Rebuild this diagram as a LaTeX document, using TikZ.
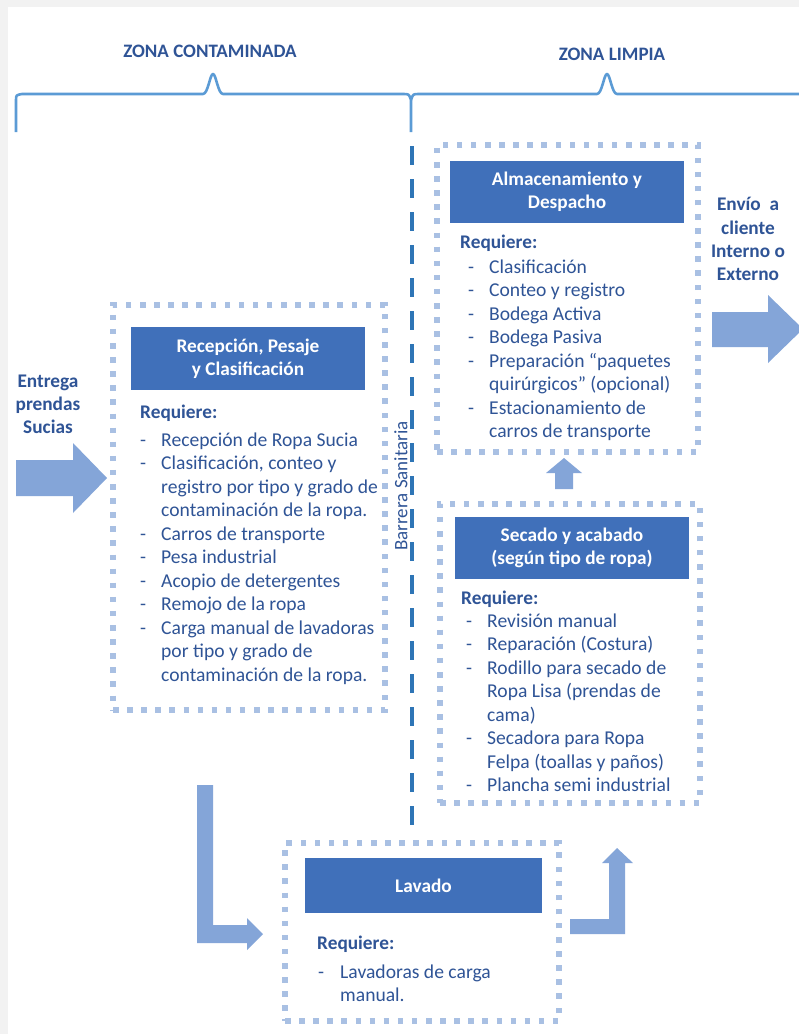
\documentclass[tikz,border=0pt]{standalone}
\usepackage{fontspec}
\setmainfont{Carlito}
\definecolor{dblue}{RGB}{47,84,150}
\definecolor{hdr}{RGB}{64,112,186}
\definecolor{dotc}{RGB}{169,192,227}
\definecolor{arr}{RGB}{132,165,216}
\definecolor{brace}{RGB}{91,155,213}
\definecolor{barr}{RGB}{46,117,182}
\newcommand\itm[1]{\strut\makebox[21pt][l]{-}#1}
\newcommand\cnt[1]{\strut\hspace*{21pt}#1}
\tikzset{
  dotbox/.style={draw=dotc, line width=5.5pt, dash pattern=on 5.5pt off 8.6pt, line cap=butt, inner sep=0pt},
  hdrbox/.style={fill=hdr, text=white, inner sep=0pt, align=center, font=\fontsize{19.3}{23.4}\selectfont\bfseries},
  req/.style={anchor=base west, text=dblue, inner sep=0pt, font=\fontsize{19.3}{23.4}\selectfont\bfseries},
  lst/.style={anchor=north west, text=dblue, inner sep=0pt, align=left, font=\fontsize{19.6}{23.5}\selectfont},
  side/.style={text=dblue, inner sep=0pt, align=center, font=\fontsize{19.3}{23.2}\selectfont\bfseries},
  zone/.style={text=dblue, inner sep=0pt, font=\fontsize{19}{22}\selectfont\bfseries},
  blockarrow/.style={fill=arr, draw=none},
}
\begin{document}
\begin{tikzpicture}[x=1pt,y=-1pt]
\useasboundingbox (0,0) rectangle (799,1034);
\clip (0,0) rectangle (799,1034);
\fill[black!5] (0,0) rectangle (799,1034);
\fill[white] (8,7) rectangle (799,1034);

% braces
\draw[brace, line width=2.6pt, line join=round]
  (16,132) -- (16,101) .. controls (16,95) .. (22,94) -- (203,94)
  .. controls (208,94) and (210,74) .. (213,74) .. controls (216,74) and (218,94) .. (223,94)
  -- (403,94) .. controls (409,94) .. (411,100) -- (411,132);
\draw[brace, line width=2.6pt, line join=round]
  (411,100) .. controls (413,94) .. (419,94) -- (597,94)
  .. controls (602,94) and (604,74) .. (607,74) .. controls (610,74) and (612,94) .. (617,94)
  -- (799,94);
\node[zone] (zc) at (210,51) {ZONA CONTAMINADA};
\node[zone] (zl) at (612,54) {ZONA LIMPIA};

% barrier
\draw[barr, line width=4pt, dash pattern=on 19pt off 14pt] (412,146) -- (412,830);
\node[text=dblue, inner sep=0pt, rotate=90, font=\fontsize{19}{23}\selectfont] (bs) at (401,486) {Barrera Sanitaria};

% box 1
\node[dotbox, minimum width=272pt, minimum height=405pt] (b1) at (249,507.5) {};
\node[hdrbox, minimum width=234pt, minimum height=63pt] (h1) at (248,358.5) {Recepción, Pesaje\\y Clasificación};
\node[req] (r1) at (140,418) {Requiere:};
\node[lst] (l1) at (140,429.5) {\itm{Recepción de Ropa Sucia}\\
\itm{Clasificación, conteo y}\\
\cnt{registro por tipo y grado de}\\
\cnt{contaminación de la ropa.}\\
\itm{Carros de transporte}\\
\itm{Pesa industrial}\\
\itm{Acopio de detergentes}\\
\itm{Remojo de la ropa}\\
\itm{Carga manual de lavadoras}\\
\cnt{por tipo y grado de}\\
\cnt{contaminación de la ropa.}};

% box 2
\node[dotbox, minimum width=261pt, minimum height=307pt] (b2) at (567.5,298.5) {};
\node[hdrbox, minimum width=234pt, minimum height=62pt] (h2) at (567,192) {Almacenamiento y\\Despacho};
\node[req] (r2) at (460,248) {Requiere:};
\node[lst] (l2) at (468,256.5) {\itm{Clasificación}\\
\itm{Conteo y registro}\\
\itm{Bodega Activa}\\
\itm{Bodega Pasiva}\\
\itm{Preparación “paquetes}\\
\cnt{quirúrgicos” (opcional)}\\
\itm{Estacionamiento de}\\
\cnt{carros de transporte}};

% box 3
\node[dotbox, minimum width=260pt, minimum height=299pt] (b3) at (570,653.5) {};
\node[hdrbox, minimum width=234pt, minimum height=62pt] (h3) at (572,548) {Secado y acabado\\(según tipo de ropa)};
\node[req] (r3) at (461,604) {Requiere:};
\node[lst] (l3) at (466,610.5) {\itm{Revisión manual}\\
\itm{Reparación (Costura)}\\
\itm{Rodillo para secado de}\\
\cnt{Ropa Lisa (prendas de}\\
\cnt{cama)}\\
\itm{Secadora para Ropa}\\
\cnt{Felpa (toallas y paños)}\\
\itm{Plancha semi industrial}};

% box 4
\node[dotbox, minimum width=274pt, minimum height=178pt] (b4) at (422,932) {};
\node[hdrbox, minimum width=237pt, minimum height=55pt] (h4) at (423.5,885.5) {Lavado};
\node[req] (r4) at (317,949) {Requiere:};
\node[lst] (l4) at (318,961.5) {\strut\makebox[22pt][l]{-}Lavadoras de carga\\
\strut\hspace*{22pt}manual.};

% side texts
\node[side] (t1) at (48,406) {\strut Entrega\\\strut prendas\\\strut Sucias};
\node[side] (t2) at (748,241) {\strut Envío~ a\\\strut cliente\\\strut Interno o\\\strut Externo};

% block arrows
\fill[blockarrow] (16,460) -- (73,460) -- (73,443) -- (107,478) -- (73,513) -- (73,496) -- (16,496) -- cycle;
\fill[blockarrow] (712,312) -- (768,312) -- (768,295) -- (803,329) -- (768,363) -- (768,347) -- (712,347) -- cycle;
\fill[blockarrow] (555,489) -- (555,473) -- (546,473) -- (564,458) -- (582,473) -- (573,473) -- (573,489) -- cycle;
\fill[blockarrow] (197,785) -- (213,785) -- (213,925) -- (247,925) -- (247,918) -- (263,934) -- (247,950) -- (247,943) -- (197,943) -- cycle;
\fill[blockarrow] (570,919) -- (609,919) -- (609,863) -- (602,863) -- (617,848) -- (633,863) -- (625,863) -- (625,934) -- (570,934) -- cycle;
\end{tikzpicture}
\end{document}
